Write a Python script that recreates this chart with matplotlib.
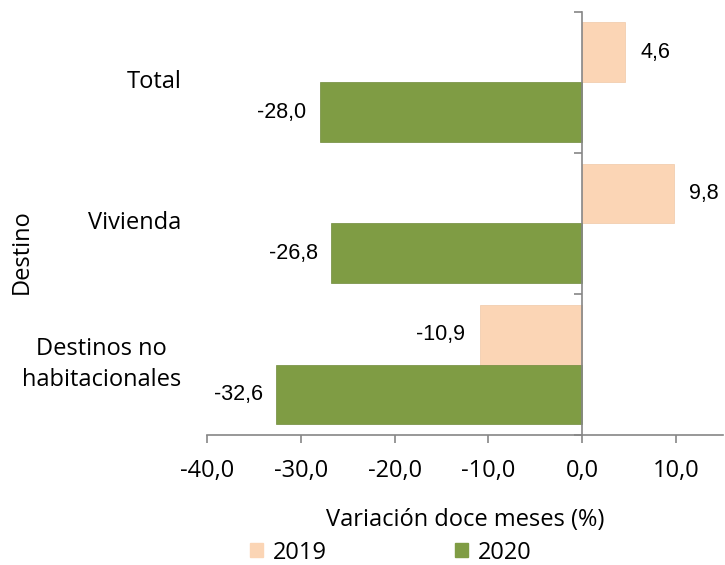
import numpy as np
import matplotlib.pyplot as plt
from matplotlib.patches import Patch
import matplotlib.transforms as mtransforms

categorias = ["Total", "Vivienda", "Destinos no\nhabitacionales"]
v2019 = [4.6, 9.8, -10.9]
v2020 = [-28.0, -26.8, -32.6]
ticks_x = [-40, -30, -20, -10, 0, 10]

c2019 = "#FBD5B5"
c2020 = "#7F9C44"
gris = "#868686"

def fmt(v):
    return f"{v:.1f}".replace(".", ",")

fig = plt.figure(figsize=(7.25, 5.65), dpi=100)
ax = fig.add_axes([0.2855, 0.23, 0.7115, 0.749])

y = np.arange(len(categorias))[::-1]
h = 0.425
ax.barh(y + h / 2, v2019, height=h, color=c2019, edgecolor="#f0c8a8", linewidth=0.5)
ax.barh(y - h / 2, v2020, height=h, color=c2020, edgecolor="#6f8a3a", linewidth=0.5)

# etiquetas de datos
for yi, v in zip(y, v2019):
    off = 1.6 if v > 0 else -1.6
    ax.text(v + off, yi + h / 2, fmt(v), ha="left" if v > 0 else "right",
            va="center", fontsize=15.5, family="Liberation Sans")
for yi, v in zip(y, v2020):
    ax.text(v - 1.4, yi - h / 2, fmt(v), ha="right", va="center",
            fontsize=15.5, family="Liberation Sans")

ax.set_xlim(-40, 15)
ax.set_ylim(-0.5, 2.5)
ax.set_xticks(ticks_x)
ax.set_xticklabels([fmt(t) for t in ticks_x], family="Open Sans", fontsize=17)
ax.set_yticks([-0.5, 0.5, 1.5, 2.5])
ax.set_yticklabels([])

ax.spines["left"].set_position(("data", 0))
ax.spines["top"].set_visible(False)
ax.spines["right"].set_visible(False)
for s in ["left", "bottom"]:
    ax.spines[s].set_color(gris)
    ax.spines[s].set_linewidth(1.2)
ax.tick_params(axis="both", colors=gris, length=6, width=1.2, direction="out")
ax.tick_params(axis="x", labelcolor="black", pad=11)

trans = mtransforms.blended_transform_factory(ax.transAxes, ax.transData)
for yi, cat in zip(y, categorias):
    ax.text(-0.05, yi, cat, transform=trans, ha="right", va="center",
            multialignment="center", family="Open Sans", fontsize=17,
            linespacing=1.4)

ax.set_xlabel("Variación doce meses (%)", family="Open Sans", fontsize=17, labelpad=18)
fig.text(0.03, 0.555, "Destino", rotation=90, ha="center", va="center",
         family="Open Sans", fontsize=17)

handles = [Patch(color=c2019, label="2019"), Patch(color=c2020, label="2020")]
fig.legend(handles=handles, loc="center", bbox_to_anchor=(0.539, 0.022), ncol=2,
           frameon=False, prop={"family": "Open Sans", "size": 17},
           handlelength=0.55, handleheight=0.55, handletextpad=0.4,
           columnspacing=5.45)

fig.savefig("out.png", dpi=100)
